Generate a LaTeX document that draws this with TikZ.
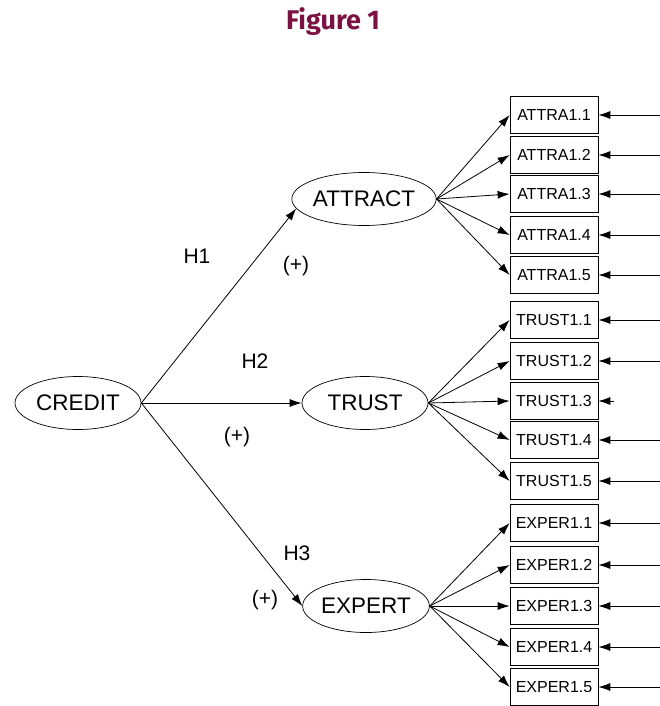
\documentclass[tikz,border=0pt]{standalone}
\usepackage{fontspec}
\setmainfont{Liberation Sans}
\newfontfamily\titlefont{Fira Sans}
\usetikzlibrary{arrows.meta,shapes.geometric}
\definecolor{figred}{RGB}{122,18,66}
\tikzset{
  latent/.style={ellipse,draw,line width=0.7pt,minimum width=126pt,minimum height=53pt,inner sep=0pt,font=\fontsize{22.5}{24}\selectfont},
  item/.style={rectangle,draw,line width=0.7pt,minimum width=88pt,minimum height=37pt,inner sep=0pt,font=\fontsize{16}{18}\selectfont},
  pfeil/.style={-{Latex[length=12pt,width=8pt]},line width=0.8pt},
  lbl/.style={font=\fontsize{21}{23}\selectfont}
}
\begin{document}
\begin{tikzpicture}[x=1pt,y=-1pt]
        \useasboundingbox (0,0) rectangle (660,706);
        \node[font=\titlefont\bfseries\fontsize{27}{30}\selectfont,text=figred] (titel) at (333,22) {Figure 1};

        % latent variables
        \node[latent] (credit) at (78,403) {CREDIT};
        \node[latent] (attract) at (364,199) {ATTRACT};
        \node[latent] (trust) at (365,403) {TRUST};
        \node[latent] (expert) at (366,606) {EXPERT};

        % indicators
        \node[item] (A1) at (554,115) {ATTRA1.1};
        \node[item] (A2) at (554,155) {ATTRA1.2};
        \node[item] (A3) at (554,194) {ATTRA1.3};
        \node[item] (A4) at (554,235) {ATTRA1.4};
        \node[item] (A5) at (554,275) {ATTRA1.5};
        \node[item] (T1) at (554,320) {TRUST1.1};
        \node[item] (T2) at (554,361) {TRUST1.2};
        \node[item] (T3) at (554,401) {TRUST1.3};
        \node[item] (T4) at (554,440) {TRUST1.4};
        \node[item] (T5) at (554,481) {TRUST1.5};
        \node[item] (E1) at (554,523) {EXPER1.1};
        \node[item] (E2) at (554,565) {EXPER1.2};
        \node[item] (E3) at (554,606) {EXPER1.3};
        \node[item] (E4) at (554,647) {EXPER1.4};
        \node[item] (E5) at (554,687) {EXPER1.5};

        % error terms
        \coordinate (a1) at (660,115);
        \coordinate (a2) at (660,155);
        \coordinate (a3) at (660,194);
        \coordinate (a4) at (660,235);
        \coordinate (a5) at (660,275);
        \coordinate (t1) at (660,320);
        \coordinate (t2) at (660,361);
        \coordinate (t3) at (614,401);
        \coordinate (t4) at (660,440);
        \coordinate (t5) at (660,481);
        \coordinate (e1) at (660,523);
        \coordinate (e2) at (660,565);
        \coordinate (e3) at (660,606);
        \coordinate (e4) at (660,647);
        \coordinate (e5) at (660,687);

        \node[lbl] (h1) at (197,256) {H1};
        \node[lbl] (p1) at (296,266) {(+)};
        \node[lbl] (h2) at (255,361) {H2};
        \node[lbl] (p2) at (237,437) {(+)};
        \node[lbl] (h3) at (297,553) {H3};
        \node[lbl] (p3) at (265,600) {(+)};

        \draw[pfeil] (credit.east) -- (attract.188);
        \draw[pfeil] (credit.east) -- (trust.west);
        \draw[pfeil] (credit.east) -- (expert.west);

        \draw[pfeil] (attract.east) -- (A1.west);
        \draw[pfeil] (attract.east) -- (A2.west);
        \draw[pfeil] (attract.east) -- (A3.west);
        \draw[pfeil] (attract.east) -- (A4.west);
        \draw[pfeil] (attract.east) -- (A5.west);
        \draw[pfeil] (trust.east) -- (T1.west);
        \draw[pfeil] (trust.east) -- (T2.west);
        \draw[pfeil] (trust.east) -- (T3.west);
        \draw[pfeil] (trust.east) -- (T4.west);
        \draw[pfeil] (trust.east) -- (T5.west);
        \draw[pfeil] (expert.east) -- (E1.west);
        \draw[pfeil] (expert.east) -- (E2.west);
        \draw[pfeil] (expert.east) -- (E3.west);
        \draw[pfeil] (expert.east) -- (E4.west);
        \draw[pfeil] (expert.east) -- (E5.west);

        \draw[pfeil] (a1) -- (A1); \draw[pfeil] (a2) -- (A2);
        \draw[pfeil] (a3) -- (A3); \draw[pfeil] (a4) -- (A4);
        \draw[pfeil] (a5) -- (A5);
        \draw[pfeil] (t1) -- (T1); \draw[pfeil] (t2) -- (T2);
        \draw[pfeil] (t3) -- (T3); \draw[pfeil] (t4) -- (T4);
        \draw[pfeil] (t5) -- (T5);
        \draw[pfeil] (e1) -- (E1); \draw[pfeil] (e2) -- (E2);
        \draw[pfeil] (e3) -- (E3); \draw[pfeil] (e4) -- (E4);
        \draw[pfeil] (e5) -- (E5);
\end{tikzpicture}
\end{document}
